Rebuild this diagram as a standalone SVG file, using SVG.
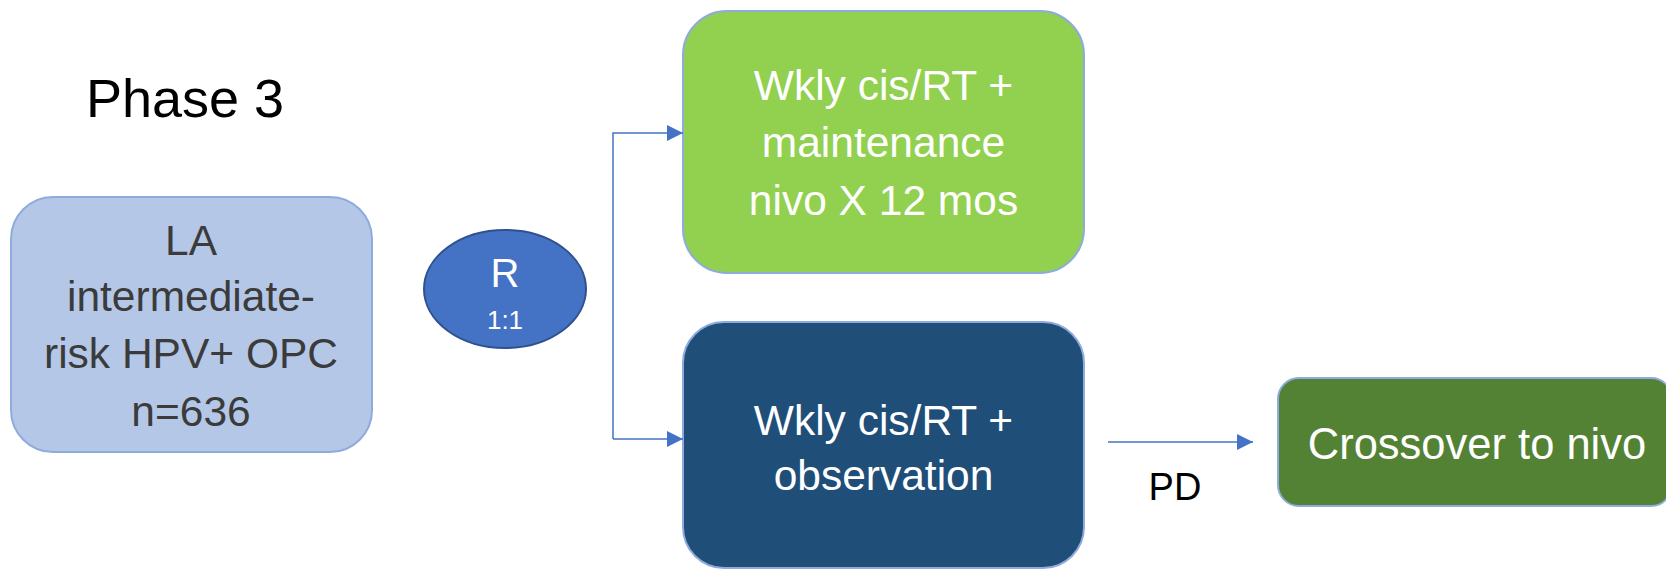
<svg xmlns="http://www.w3.org/2000/svg" width="1666" height="570" viewBox="0 0 1666 570">
<style>
text { font-family: "Liberation Sans", Arial, sans-serif; text-anchor: middle; }
.box { stroke: #8FAADC; stroke-width: 2; }
.wt { fill: #FFFFFF; font-size: 42.5px; }
.dk { fill: #3B3B3B; font-size: 42.5px; }
.conn { fill: none; stroke: #4472C4; stroke-width: 1.5; }
</style>
<defs>
<marker id="arr" markerUnits="userSpaceOnUse" markerWidth="17" markerHeight="16" refX="16" refY="8" orient="auto">
<path d="M0,0 L16,8 L0,16 Z" fill="#4472C4"/>
</marker>
</defs>
<rect width="1666" height="570" fill="#FFFFFF"/>
<g id="title">
<text x="185" y="117" style="font-size:54px;fill:#000000">Phase 3</text>
</g>
<g id="population">
<rect class="box" x="11" y="197" width="361" height="255" rx="42" ry="42" fill="#B4C7E7"/>
<text class="dk" x="191" y="255">LA</text>
<text class="dk" x="191" y="311">intermediate-</text>
<text class="dk" x="191" y="368">risk HPV+ OPC</text>
<text class="dk" x="191" y="426">n=636</text>
</g>
<g id="randomization">
<ellipse cx="505" cy="289" rx="81" ry="59" fill="#4472C4" stroke="#2F528F" stroke-width="2"/>
<text x="505" y="287" style="font-size:40px;fill:#FFFFFF">R</text>
<text x="505" y="329" style="font-size:26px;fill:#FFFFFF">1:1</text>
</g>
<g id="arm-nivo">
<rect class="box" x="683" y="11" width="401" height="262" rx="44" ry="44" fill="#92D050"/>
<text class="wt" x="883.5" y="100">Wkly cis/RT +</text>
<text class="wt" x="883.5" y="157">maintenance</text>
<text class="wt" x="883.5" y="215">nivo X 12 mos</text>
</g>
<g id="arm-observation">
<rect class="box" x="683" y="322" width="401" height="246" rx="41" ry="41" fill="#1F4E79"/>
<text class="wt" x="883.5" y="435">Wkly cis/RT +</text>
<text class="wt" x="883.5" y="490">observation</text>
</g>
<g id="crossover">
<rect class="box" x="1278" y="378" width="394" height="128" rx="21" ry="21" fill="#548235"/>
<text x="1477" y="459" style="font-size:43.5px;fill:#FFFFFF">Crossover to nivo</text>
</g>
<g id="connectors">
<polyline class="conn" points="613,439 613,133 683,133" marker-end="url(#arr)"/>
<line class="conn" x1="613" y1="439" x2="683" y2="439" marker-end="url(#arr)"/>
<line class="conn" x1="1108" y1="442" x2="1253" y2="442" marker-end="url(#arr)"/>
<text x="1175" y="500" style="font-size:38px;fill:#000000">PD</text>
</g>
</svg>
